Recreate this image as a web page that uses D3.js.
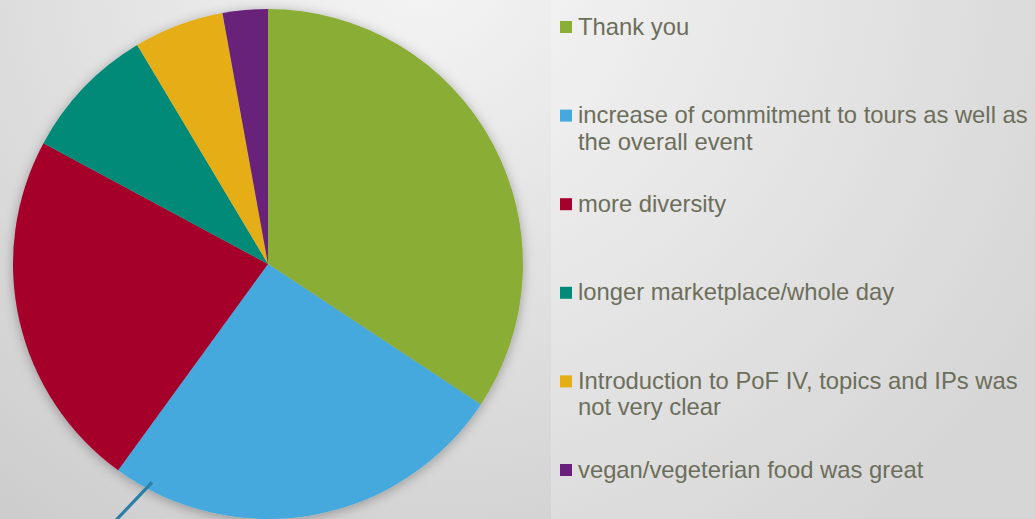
<!DOCTYPE html>
<html>
  <head>
    <meta charset="utf-8" />
    <style>
      html,
      body {
        margin: 0;
        padding: 0;
        overflow: hidden;
      }
      body {
        font-family: "Liberation Sans", Arial, Helvetica, sans-serif;
      }
    </style>
    <script src="https://cdn.jsdelivr.net/npm/d3@7"></script>
  </head>
  <body>
    <svg id="PieChart"></svg>
    <script>
      // answers and how many people gave them
      let categories = [
        "Thank you",
        "increase of commitment to tours as well as the overall event",
        "more diversity",
        "longer marketplace/whole day",
        "Introduction to PoF IV, topics and IPs was not very clear",
        "vegan/vegeterian food was great",
      ];
      let counts = [12, 9, 8, 3, 2, 1];
      // legend text, already broken into lines like the original
      let legendLines = [
        ["Thank you"],
        ["increase of commitment to tours as well as", "the overall event"],
        ["more diversity"],
        ["longer marketplace/whole day"],
        ["Introduction to PoF IV, topics and IPs was", "not very clear"],
        ["vegan/vegeterian food was great"],
      ];
      let colors = ["#8aae36", "#45a9de", "#a5002b", "#008a77", "#e5ae17", "#68207a"];

      function getConfig() {
        let width = 1035;
        let height = 519;
        let pie = { cx: 268, cy: 264, radius: 255 };
        let legend = { x: 551, top: 27, step: 88.6, lineHeight: 26.6 };
        let container = d3.select("#PieChart");
        container.attr("width", width).attr("height", height);
        return { width, height, pie, legend, container };
      }

      function drawBackground(config) {
        let { container, width, height, legend } = config;
        let defs = container.append("defs");

        let grad = defs
          .append("radialGradient")
          .attr("id", "bg")
          .attr("gradientUnits", "userSpaceOnUse")
          .attr("cx", 420)
          .attr("cy", -40)
          .attr("r", 720);
        grad.append("stop").attr("offset", "0%").attr("stop-color", "#f5f5f5");
        grad.append("stop").attr("offset", "100%").attr("stop-color", "#cbcbcb");

        let shadow = defs
          .append("filter")
          .attr("id", "shadow")
          .attr("x", "-20%")
          .attr("y", "-20%")
          .attr("width", "140%")
          .attr("height", "140%");
        shadow
          .append("feDropShadow")
          .attr("dx", 0)
          .attr("dy", 2)
          .attr("stdDeviation", 6)
          .attr("flood-color", "#000")
          .attr("flood-opacity", 0.3);

        container
          .append("rect")
          .attr("width", width)
          .attr("height", height)
          .attr("fill", "url(#bg)");

        // lighter panel behind the legend
        container
          .append("rect")
          .attr("x", legend.x)
          .attr("width", width - legend.x)
          .attr("height", height)
          .attr("fill", "#ffffff")
          .attr("opacity", 0.22);
      }

      function drawPie(config) {
        let { container, pie } = config;
        let data = categories.map((c, i) => ({ name: c, count: counts[i], color: colors[i] }));

        let pieLayout = d3
          .pie()
          .sort(null)
          .value((d) => d.count);
        let arc = d3.arc().innerRadius(0).outerRadius(pie.radius);
        let slices = pieLayout(data);

        let body = container
          .append("g")
          .attr("transform", `translate(${pie.cx},${pie.cy})`);

        body
          .append("g")
          .attr("filter", "url(#shadow)")
          .selectAll("path")
          .data(slices)
          .enter()
          .append("path")
          .attr("d", arc)
          .attr("fill", (d) => d.data.color);

        // leftover leader line hanging off the blue slice
        let blue = slices[1];
        let start = d3.pointRadial(blue.endAngle - 0.14, pie.radius * 0.97);
        body
          .append("line")
          .attr("x1", start[0])
          .attr("y1", start[1])
          .attr("x2", start[0] - 40)
          .attr("y2", start[1] + 42)
          .attr("stroke", "#2a7ea8")
          .attr("stroke-width", 3.2);
      }

      function drawLegend(config) {
        let { container, legend } = config;
        let items = container
          .append("g")
          .selectAll("g")
          .data(legendLines)
          .enter()
          .append("g")
          .attr("transform", (d, i) => `translate(${legend.x},${legend.top + i * legend.step})`);

        items
          .append("rect")
          .attr("x", 9)
          .attr("y", -6)
          .attr("width", 12)
          .attr("height", 12)
          .attr("fill", (d, i) => colors[i]);

        items
          .append("text")
          .attr("font-size", 23.8)
          .attr("fill", "#6c6e5b")
          .selectAll("tspan")
          .data((d) => d)
          .enter()
          .append("tspan")
          .attr("x", 27)
          .attr("y", (d, j) => 7.5 + j * legend.lineHeight)
          .text((d) => d);
      }

      let config = getConfig();
      drawBackground(config);
      drawPie(config);
      drawLegend(config);
    </script>
  </body>
</html>
